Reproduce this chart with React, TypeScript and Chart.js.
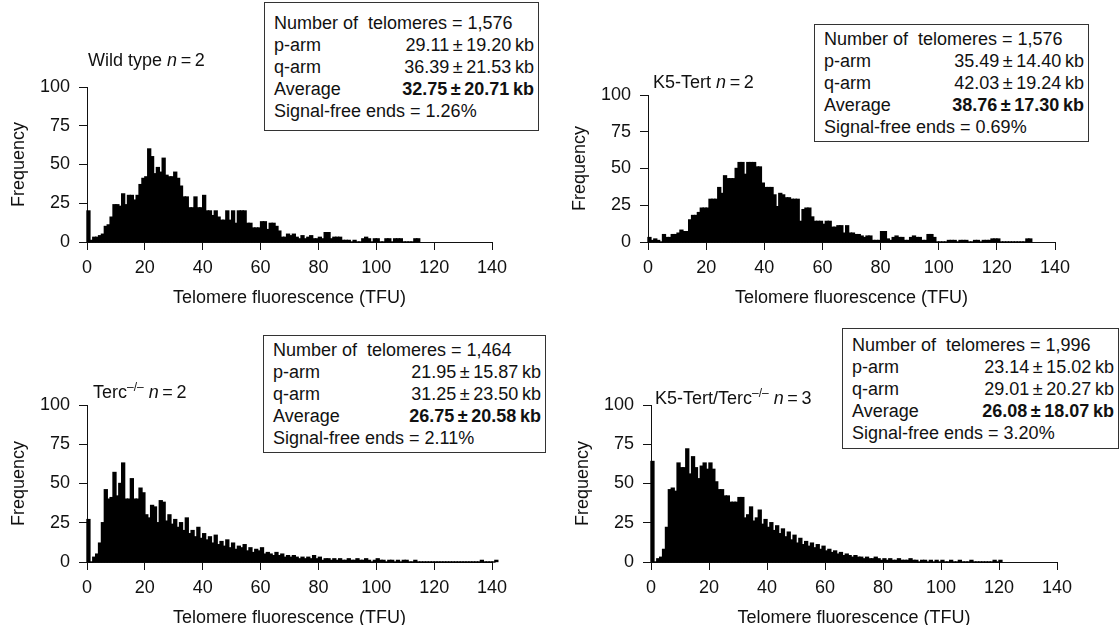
import React, { useEffect, useRef } from 'react';
import { Chart, registerables } from 'chart.js';

Chart.register(...registerables);

// Histogram counts per 1-TFU bin (bin i covers [i, i+1))
const wildTypeCounts = [
  20, 1, 3, 3, 4, 5, 10, 11, 16, 24, 24, 23, 31, 24, 30, 30, 27, 30, 37, 41,
  42, 60, 55, 44, 48, 45, 54, 43, 42, 42, 45, 41, 36, 29, 29, 22, 22, 29, 22, 22,
  30, 20, 20, 17, 20, 16, 14, 14, 20, 14, 20, 12, 20, 20, 20, 12, 12, 9, 9, 9,
  13, 13, 8, 12, 12, 10, 7, 3, 3, 5, 4, 5, 3, 2, 4, 2, 3, 4, 2, 2,
  3, 2, 6, 6, 2, 3, 3, 3, 1, 1, 1, 0, 1, 0, 0, 2, 3, 2, 0, 2,
  2, 0, 0, 2, 2, 0, 2, 2, 2, 0, 0, 0, 0, 2, 2,
];
const k5TertCounts = [
  3, 1, 2, 1, 0, 5, 3, 3, 5, 5, 6, 8, 7, 7, 15, 18, 18, 20, 23, 23,
  23, 29, 29, 29, 37, 33, 45, 43, 43, 43, 50, 54, 54, 46, 54, 54, 54, 51, 51, 40,
  37, 37, 37, 32, 24, 33, 32, 30, 30, 29, 29, 29, 14, 22, 23, 23, 17, 14, 14, 14,
  12, 14, 14, 10, 10, 11, 11, 6, 11, 6, 6, 5, 5, 4, 3, 4, 4, 1, 1, 1,
  7, 7, 2, 1, 3, 4, 3, 3, 1, 1, 3, 4, 3, 3, 1, 1, 5, 5, 3, 0,
  0, 0, 0, 1, 1, 1, 0, 1, 1, 1, 0, 0, 1, 1, 0, 1, 1, 1, 2, 2,
  2, 0, 0, 0, 0, 0, 0, 0, 0, 0, 2, 2,
];
const tercCounts = [
  27, 0, 3, 5, 12, 25, 46, 40, 41, 57, 42, 50, 63, 40, 40, 53, 40, 40, 47, 44,
  30, 28, 36, 35, 25, 39, 38, 26, 30, 24, 27, 22, 25, 20, 28, 18, 20, 16, 22, 15,
  18, 14, 16, 12, 17, 11, 13, 10, 14, 9, 12, 8, 10, 9, 11, 7, 9, 6, 8, 7,
  9, 5, 6, 5, 4, 6, 4, 5, 3, 4, 3, 4, 3, 2, 3, 2, 3, 2, 4, 2,
  3, 1, 2, 2, 1, 2, 1, 2, 1, 1, 2, 1, 1, 2, 1, 1, 2, 1, 0, 1,
  2, 1, 1, 0, 1, 1, 0, 1, 0, 1, 1, 0, 0, 1, 0, 0, 0, 0, 0, 0,
  0, 0, 0, 0, 0, 0, 0, 0, 0, 0, 0, 0, 0, 0, 0, 0, 1, 0, 0, 0,
  0, 1,
];
const k5TertTercCounts = [
  64, 0, 2, 3, 8, 22, 46, 47, 45, 63, 60, 60, 72, 56, 67, 60, 53, 61, 63, 59,
  63, 59, 51, 46, 46, 42, 42, 38, 38, 38, 41, 41, 28, 30, 35, 26, 28, 33, 24, 27,
  22, 25, 20, 23, 18, 21, 16, 19, 14, 17, 12, 15, 11, 13, 10, 12, 9, 11, 8, 10,
  7, 8, 6, 7, 5, 6, 4, 5, 4, 3, 4, 3, 3, 2, 3, 2, 2, 3, 2, 1,
  2, 1, 2, 1, 1, 2, 1, 1, 1, 2, 1, 1, 0, 1, 1, 0, 1, 0, 1, 0,
  1, 0, 0, 1, 0, 0, 1, 0, 0, 0, 1, 0, 0, 0, 0, 0, 0, 0, 1, 0,
  1,
];

const xTickValues = [0, 20, 40, 60, 80, 100, 120, 140];
const yTickValues = [0, 25, 50, 75, 100];

// Summary box values (panels: wild type, K5-Tert, Terc-/-, K5-Tert/Terc-/-)
const telomereTotals = ['1,576', '1,576', '1,464', '1,996'];
const pArmMean = [29.11, 35.49, 21.95, 23.14];
const pArmSd = [19.2, 14.4, 15.87, 15.02];
const qArmMean = [36.39, 42.03, 31.25, 29.01];
const qArmSd = [21.53, 19.24, 23.5, 20.27];
const avgMean = [32.75, 38.76, 26.75, 26.08];
const avgSd = [20.71, 17.3, 20.58, 18.07];
const signalFree = [1.26, 0.69, 2.11, 3.2];

const FONT = "'Liberation Sans', Arial, Helvetica, sans-serif";

type HistProps = {
  counts: number[];
  left: number;
  top: number;
  width: number;
  height: number;
  padTop: number;
  padRight: number;
};

function Histogram({ counts, left, top, width, height, padTop, padRight }: HistProps) {
  const ref = useRef<HTMLCanvasElement>(null);
  useEffect(() => {
    const font = { family: FONT, size: 18 };
    const chart = new Chart(ref.current as HTMLCanvasElement, {
      type: 'bar',
      data: {
        datasets: [
          {
            data: counts.map((c, i) => ({ x: i + 0.5, y: c })),
            backgroundColor: '#000',
            borderWidth: 0,
            barPercentage: 1,
            categoryPercentage: 1,
            inflateAmount: 0.7,
            clip: false,
          } as any,
        ],
      },
      options: {
        animation: false,
        responsive: false,
        maintainAspectRatio: false,
        events: [],
        layout: { padding: { left: 0, top: padTop, right: padRight, bottom: 0 } },
        plugins: { legend: { display: false }, tooltip: { enabled: false } },
        scales: {
          x: {
            type: 'linear',
            min: 0,
            max: 140,
            offset: false,
            afterFit: (s: any) => {
              s.height = 78;
            },
            afterBuildTicks: (s: any) => {
              s.ticks = xTickValues.map((v) => ({ value: v }));
            },
            ticks: { font, color: '#111', padding: 7, maxRotation: 0, autoSkip: false },
            grid: { offset: false, drawOnChartArea: false, drawTicks: true, tickLength: 8, color: '#111', lineWidth: 1 },
            border: { display: true, color: '#111', width: 1 },
            title: {
              display: true,
              text: 'Telomere fluorescence (TFU)',
              font,
              color: '#111',
              padding: { top: 0, bottom: 11 },
            },
          },
          y: {
            type: 'linear',
            min: 0,
            max: 100,
            afterFit: (s: any) => {
              s.width = 87;
            },
            afterBuildTicks: (s: any) => {
              s.ticks = yTickValues.map((v) => ({ value: v }));
            },
            ticks: { font, color: '#111', padding: 9 },
            grid: { drawOnChartArea: false, drawTicks: true, tickLength: 8, color: '#111', lineWidth: 1 },
            border: { display: true, color: '#111', width: 1 },
            title: {
              display: true,
              text: 'Frequency',
              font,
              color: '#111',
              padding: { top: 8, bottom: 0 },
            },
          },
        },
      } as any,
    });
    return () => chart.destroy();
  }, []);
  return (
    <canvas
      ref={ref}
      width={width}
      height={height}
      style={{ position: 'absolute', left, top, width, height }}
    />
  );
}

type BoxProps = { idx: number; left: number; top: number; width: number; height: number };

function StatBox({ idx, left, top, width, height }: BoxProps) {
  const row: React.CSSProperties = {
    height: 22,
    lineHeight: '22px',
    display: 'flex',
    justifyContent: 'space-between',
    whiteSpace: 'pre',
  };
  const pm = (m: number, s: number) => `${m.toFixed(2)}\u2009±\u2009${s.toFixed(2)}\u2009kb`;
  return (
    <div
      style={{
        position: 'absolute',
        left,
        top,
        width,
        height,
        boxSizing: 'border-box',
        border: '1px solid #333',
        padding: '0 4px 0 9px',
        display: 'flex',
        flexDirection: 'column',
        justifyContent: 'center',
        fontSize: 18,
        color: '#111',
        background: '#fff',
      }}
    >
      <div style={row}>{`Number of  telomeres = ${telomereTotals[idx]}`}</div>
      <div style={row}>
        <span>p-arm</span>
        <span>{pm(pArmMean[idx], pArmSd[idx])}</span>
      </div>
      <div style={row}>
        <span>q-arm</span>
        <span>{pm(qArmMean[idx], qArmSd[idx])}</span>
      </div>
      <div style={row}>
        <span>Average</span>
        <span style={{ fontWeight: 'bold' }}>{pm(avgMean[idx], avgSd[idx])}</span>
      </div>
      <div style={row}>{`Signal-free ends = ${signalFree[idx].toFixed(2)}%`}</div>
    </div>
  );
}

function Title({ left, top, children }: { left: number; top: number; children: React.ReactNode }) {
  return (
    <div
      style={{
        position: 'absolute',
        left,
        top,
        fontSize: 18,
        lineHeight: '18px',
        whiteSpace: 'nowrap',
        color: '#111',
      }}
    >
      {children}
    </div>
  );
}

const sup: React.CSSProperties = { fontSize: 12, verticalAlign: '7px', lineHeight: 0 };

export default function App() {
  return (
    <div
      style={{
        position: 'absolute',
        left: 0,
        top: 0,
        width: 1119,
        height: 625,
        overflow: 'hidden',
        background: '#fff',
        fontFamily: FONT,
      }}
    >
      <Histogram counts={wildTypeCounts} left={0} top={0} width={560} height={320} padTop={87} padRight={68} />
      <Histogram counts={k5TertCounts} left={561} top={0} width={558} height={320} padTop={95} padRight={64} />
      <Histogram counts={tercCounts} left={0} top={320} width={560} height={320} padTop={85} padRight={68} />
      <Histogram counts={k5TertTercCounts} left={564} top={320} width={555} height={320} padTop={85} padRight={62} />

      <Title left={88} top={51}>
        Wild type <i>n</i>{'\u2009=\u20092'}
      </Title>
      <Title left={653} top={73}>
        K5-Tert <i>n</i>{'\u2009=\u20092'}
      </Title>
      <Title left={93} top={383}>
        Terc<sup style={sup}>–/–</sup> <i>n</i>{'\u2009=\u20092'}
      </Title>
      <Title left={655} top={389}>
        K5-Tert/Terc<sup style={sup}>–/–</sup> <i>n</i>{'\u2009=\u20093'}
      </Title>

      <StatBox idx={0} left={264} top={2} width={275} height={129} />
      <StatBox idx={1} left={814} top={24} width={275} height={118} />
      <StatBox idx={2} left={263} top={335} width={283} height={118} />
      <StatBox idx={3} left={842} top={328} width={277} height={121} />
    </div>
  );
}
